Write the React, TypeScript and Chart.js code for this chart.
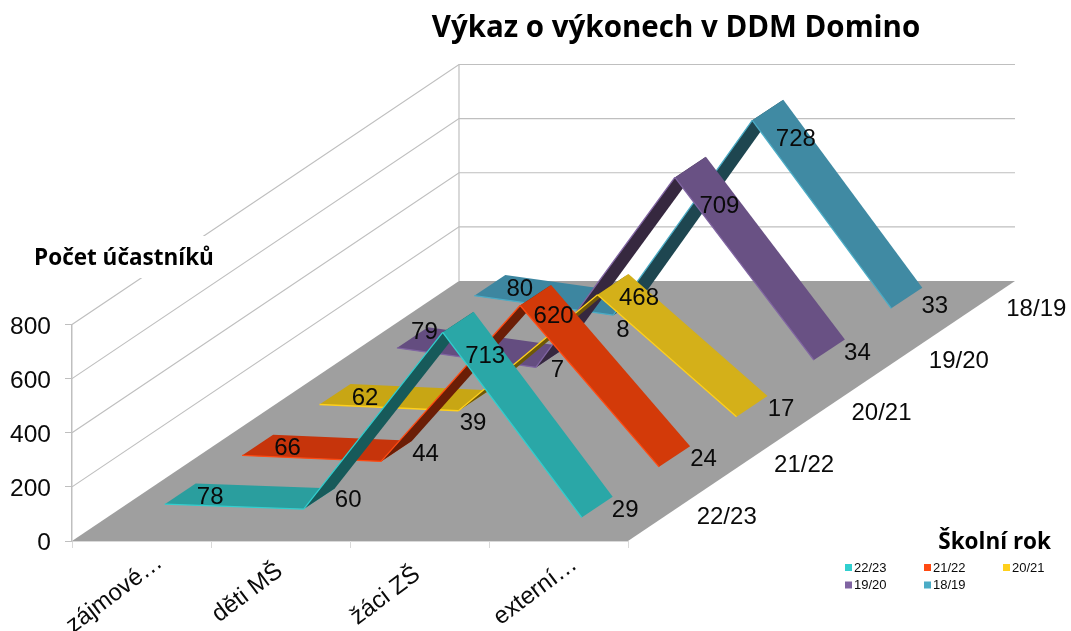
import React, { useEffect, useRef } from "react";
import { Chart, registerables } from "chart.js";

Chart.register(...registerables);

const categories = ["zájmové…", "děti MŠ", "žáci ZŠ", "externí…"];
const years = ["22/23", "21/22", "20/21", "19/20", "18/19"];
const v2223 = [78, 60, 713, 29];
const v2122 = [66, 44, 620, 24];
const v2021 = [62, 39, 468, 17];
const v1920 = [79, 7, 709, 34];
const v1819 = [80, 8, 728, 33];
const seriesValues = [v2223, v2122, v2021, v1920, v1819];
const valueTicks = [0, 200, 400, 600, 800];

const chartTitle = "Výkaz o výkonech v DDM Domino";
const valueTitle = "Počet účastníků";
const legendTitle = "Školní rok";

// styles: one per series
const edgeColors = ["#31CFCF", "#FF4A12", "#FFD01C", "#8064A2", "#4BACC6"];
const topColors = ["#2AA7A7", "#D33A09", "#D4B019", "#695184", "#408AA3"];
const flatColors = ["#2A9E9E", "#C6340B", "#C8A614", "#644D80", "#3D86A0"];
const underColors = ["#175A5A", "#6B1E06", "#6E5808", "#36283F", "#1E4650"];

// label nudges (px) from the centre of each ribbon point
const labelNudges = [
  [[30, 3], [29, 2], [27, 34], [28, 3]],
  [[30, 3], [29, 3], [18, 21], [29, 3]],
  [[30, 4], [-1, 23], [26, 14], [29, 3]],
  [[12, -5], [6, 13], [29, 39], [28, 4]],
  [[30, 4], [-6, 26], [28, 29], [28, 8]],
];
// category label centres relative to the tick position at the axis line
const categoryLabelNudges = [[-27, 53], [-33, 52], [-34, 55], [-23, 50]];

const DEPTH_X = 387;
const DEPTH_Y = 260;
const RIBBON_HALF_X = 15.5;
const RIBBON_HALF_Y = 10.3;
const WALL = "#BFBFBF";
const FLOOR = "#9F9F9F";
const TEXT = "#0A0A0A";
const SANS = "'Liberation Sans', Arial, sans-serif";
const BOLD = "'Open Sans', sans-serif";

const ribbon3d = {
  id: "ribbon3d",
  afterLayout(chart: any) {
    const t = chart.titleBlock;
    if (t) {
      t.left = 376;
      t.right = 976;
    }
  },
  beforeDraw(chart: any) {
    const { ctx, chartArea: a, scales } = chart;
    const { x, y } = scales;
    // place rotated category labels by their centre, and settle the value labels
    x.getLabelItems().forEach((item: any, i: number) => {
      const [ox, oy] = categoryLabelNudges[i];
      item.textOffset = 0;
      item.options.textAlign = "center";
      item.options.textBaseline = "middle";
      item.options.translation = [x.getPixelForTick(i) + ox, a.bottom + oy];
    });
    y.getLabelItems().forEach((item: any, i: number) => {
      const py = y.getPixelForValue(valueTicks[i]);
      item.options.translation = [item.options.translation[0], py + 2.5];
    });
    ctx.save();
    ctx.fillStyle = "#FFFFFF";
    ctx.fillRect(0, 0, chart.width, chart.height);
    // floor
    ctx.fillStyle = FLOOR;
    ctx.beginPath();
    ctx.moveTo(a.left, a.bottom);
    ctx.lineTo(a.right, a.bottom);
    ctx.lineTo(a.right + DEPTH_X, a.bottom - DEPTH_Y);
    ctx.lineTo(a.left + DEPTH_X, a.bottom - DEPTH_Y);
    ctx.closePath();
    ctx.fill();
    // walls
    ctx.strokeStyle = WALL;
    ctx.lineWidth = 1.2;
    for (const v of valueTicks) {
      const py = y.getPixelForValue(v);
      if (v > 0) {
        ctx.beginPath();
        ctx.moveTo(a.left, py);
        ctx.lineTo(a.left + DEPTH_X, py - DEPTH_Y);
        ctx.lineTo(a.right + DEPTH_X, py - DEPTH_Y);
        ctx.stroke();
      }
    }
    ctx.beginPath();
    ctx.moveTo(a.left + DEPTH_X, a.top - DEPTH_Y);
    ctx.lineTo(a.left + DEPTH_X, a.bottom - DEPTH_Y);
    ctx.stroke();
    // value-axis caption sits on a white patch that interrupts the wall lines
    ctx.fillStyle = "#FFFFFF";
    ctx.fillRect(28, 236, 190, 42);
    ctx.fillStyle = "#000000";
    ctx.font = `bold 22.5px ${BOLD}`;
    ctx.textAlign = "center";
    ctx.textBaseline = "middle";
    ctx.fillText(valueTitle, 124, 258.5);
    ctx.restore();
  },
  afterDatasetsDraw(chart: any) {
    const { ctx, chartArea: a, scales, data } = chart;
    const { x, y } = scales;
    const n = data.datasets.length;
    const slotX = DEPTH_X / n;
    const slotY = DEPTH_Y / n;
    ctx.save();
    // back to front
    for (let s = n - 1; s >= 0; s--) {
      const vals = data.datasets[s].data;
      const cx = (s + 0.5) * slotX;
      const cy = (s + 0.5) * slotY;
      for (let i = 0; i < vals.length - 1; i++) {
        const x0 = x.getPixelForValue(i);
        const x1 = x.getPixelForValue(i + 1);
        const y0 = y.getPixelForValue(vals[i]);
        const y1 = y.getPixelForValue(vals[i + 1]);
        const f0 = [x0 + cx - RIBBON_HALF_X, y0 - cy + RIBBON_HALF_Y];
        const f1 = [x1 + cx - RIBBON_HALF_X, y1 - cy + RIBBON_HALF_Y];
        const b1 = [x1 + cx + RIBBON_HALF_X, y1 - cy - RIBBON_HALF_Y];
        const b0 = [x0 + cx + RIBBON_HALF_X, y0 - cy - RIBBON_HALF_Y];
        const dx = x1 - x0;
        const dy = y1 - y0;
        const cross = dx * (-2 * RIBBON_HALF_Y) - dy * (2 * RIBBON_HALF_X);
        const under = cross > 0;
        const flat = Math.abs(dy) < 30;
        ctx.fillStyle = under ? underColors[s] : flat ? flatColors[s] : topColors[s];
        ctx.beginPath();
        ctx.moveTo(f0[0], f0[1]);
        ctx.lineTo(f1[0], f1[1]);
        ctx.lineTo(b1[0], b1[1]);
        ctx.lineTo(b0[0], b0[1]);
        ctx.closePath();
        ctx.fill();
        ctx.strokeStyle = edgeColors[s];
        ctx.lineWidth = 1.3;
        ctx.beginPath();
        ctx.moveTo(f0[0], f0[1]);
        ctx.lineTo(f1[0], f1[1]);
        ctx.stroke();
      }
    }
    // value labels
    ctx.font = `24px ${SANS}`;
    ctx.fillStyle = TEXT;
    ctx.textAlign = "center";
    ctx.textBaseline = "middle";
    for (let s = n - 1; s >= 0; s--) {
      const vals = data.datasets[s].data;
      vals.forEach((v: number, i: number) => {
        const [ox, oy] = labelNudges[s][i];
        ctx.fillText(
          String(v),
          x.getPixelForValue(i) + (s + 0.5) * slotX + ox,
          y.getPixelForValue(v) - (s + 0.5) * slotY + oy
        );
      });
    }
    // depth axis
    years.forEach((label, s) => {
      ctx.fillText(label, a.right + (s + 0.5) * slotX + 60, a.bottom - (s + 0.5) * slotY + 2);
    });
    // legend
    ctx.fillStyle = "#000000";
    ctx.font = `bold 22.5px ${BOLD}`;
    ctx.textAlign = "right";
    ctx.fillText(legendTitle, 1051, 543);
    ctx.font = `13px ${SANS}`;
    ctx.textAlign = "left";
    data.datasets.forEach((d: any, k: number) => {
      const lx = 845 + (k % 3) * 79;
      const ly = 567.5 + Math.floor(k / 3) * 17.5;
      ctx.fillStyle = d.backgroundColor;
      ctx.fillRect(lx, ly - 3.5, 7, 7);
      ctx.fillStyle = TEXT;
      ctx.fillText(d.label, lx + 9, ly + 0.5);
    });
    ctx.restore();
  },
};

export default function App() {
  const ref = useRef<HTMLCanvasElement | null>(null);
  useEffect(() => {
    if (!ref.current) return;
    const chart = new Chart(ref.current, {
      type: "line",
      plugins: [ribbon3d],
      data: {
        labels: categories,
        datasets: years.map((label, s) => ({
          label,
          data: seriesValues[s],
          backgroundColor: edgeColors[s],
          borderColor: edgeColors[s],
          showLine: false,
          pointRadius: 0,
        })),
      },
      options: {
        animation: false,
        responsive: false,
        devicePixelRatio: 1,
        layout: { padding: { left: 0, top: 0, right: 443, bottom: 0 } },
        plugins: {
          legend: { display: false },
          tooltip: { enabled: false },
          title: {
            display: true,
            text: chartTitle,
            color: "#000000",
            font: { family: BOLD, size: 29.5, weight: "bold" },
            padding: { top: 10.5, bottom: 278.6 },
          },
        },
        scales: {
          x: {
            type: "category",
            offset: true,
            grid: { offset: true, drawOnChartArea: false, color: "#D9D9D9", tickLength: 7 },
            border: { color: "#D9D9D9" },
            ticks: {
              color: TEXT,
              font: { family: SANS, size: 24 },
              minRotation: 37,
              maxRotation: 37,
              padding: 0,
              autoSkip: false,
            },
            afterFit(s: any) {
              s.height = 90;
              s.paddingLeft = 0;
              s.paddingRight = 0;
            },
          },
          y: {
            min: 0,
            max: 800,
            afterBuildTicks(s: any) {
              s.ticks = valueTicks.map((value) => ({ value }));
            },
            grid: { drawOnChartArea: false, color: WALL, tickLength: 7 },
            border: { color: WALL, width: 1.5 },
            ticks: { color: TEXT, font: { family: SANS, size: 24.5 }, padding: 14 },
            afterFit(s: any) {
              s.width = 72;
              s.paddingTop = 0;
              s.paddingBottom = 0;
            },
          },
        },
      },
    } as any);
    return () => chart.destroy();
  }, []);
  return (
    <canvas
      ref={ref}
      width={1071}
      height={631}
      style={{ position: "absolute", left: 0, top: 0, display: "block" }}
    />
  );
}
